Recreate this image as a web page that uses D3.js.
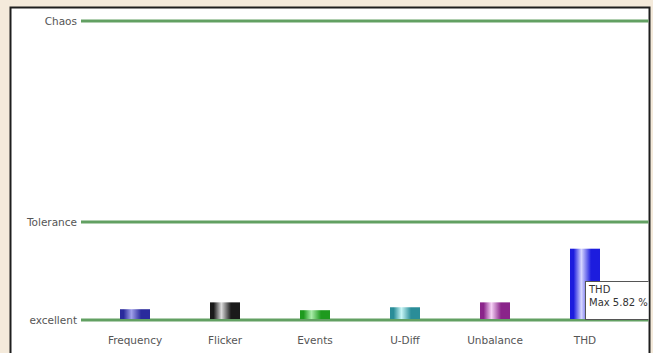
<!DOCTYPE html>
<html>
<head>
<meta charset="utf-8">
<script src="https://cdn.jsdelivr.net/npm/d3@7"></script>
<style>
  html, body { margin: 0; padding: 0; background: #f4eadb; }
  svg { display: block; }
</style>
</head>
<body>
<script>
// Quality indicators, each expressed as a percentage of its tolerance limit
const categories = ["Frequency", "Flicker", "Events", "U-Diff", "Unbalance", "THD"];
const thdMax = 5.82;      // measured THD maximum, %
const thdLimit = 8;       // THD tolerance limit, %
const levelPct = [11, 18, 10, 13, 18, thdMax / thdLimit * 100];
const barColors = [
  ["#2a2a9c", "#a0a0ea"],
  ["#1a1a1a", "#dcdcdc"],
  ["#1e9a1e", "#a8eca8"],
  ["#2a8d98", "#c8f6f6"],
  ["#8a248a", "#f6d2f6"],
  ["#1c1cde", "#d6d6ff"]
];
// Reference levels on the value axis
const levelNames = ["excellent", "Tolerance", "Chaos"];
const levelValues = [0, 100, 305];

const W = 653, H = 353;
const font = "DejaVu Sans, Verdana, sans-serif";
const svg = d3.select("body").append("svg").attr("width", W).attr("height", H);

// Panel
svg.append("rect").attr("x", 10.5).attr("y", 7.5).attr("width", 639).attr("height", 360)
  .attr("fill", "#ffffff").attr("stroke", "#1e1e1e").attr("stroke-width", 2);

svg.append("clipPath").attr("id", "panel")
  .append("rect").attr("x", 11.5).attr("y", 8.5).attr("width", 637).attr("height", 360);

const g = svg.append("g").attr("clip-path", "url(#panel)");

const x = d3.scaleBand().domain(categories).range([90, 630]).paddingInner(2 / 3).paddingOuter(1 / 3);
const y = d3.scaleLinear().domain([0, 100]).range([320, 222]);

// Cylinder shading for each bar
const defs = svg.append("defs");
barColors.forEach((c, i) => {
  const grad = defs.append("linearGradient").attr("id", "bar" + i)
    .attr("x1", "0%").attr("x2", "100%").attr("y1", "0%").attr("y2", "0%");
  grad.append("stop").attr("offset", "0%").attr("stop-color", c[0]);
  grad.append("stop").attr("offset", "12%").attr("stop-color", c[0]);
  grad.append("stop").attr("offset", "38%").attr("stop-color", c[1]);
  grad.append("stop").attr("offset", "70%").attr("stop-color", c[0]);
  grad.append("stop").attr("offset", "100%").attr("stop-color", c[0]);
});

// Level lines and their labels
levelValues.forEach((v, i) => {
  g.append("line").attr("x1", 81).attr("x2", 660)
    .attr("y1", y(v)).attr("y2", y(v))
    .attr("stroke", "#62a062").attr("stroke-width", 3);
  svg.append("text").attr("x", 77).attr("y", y(v)).attr("dy", "0.35em")
    .attr("text-anchor", "end")
    .attr("font-family", font).attr("font-size", 10.5)
    .attr("fill", "#555").text(levelNames[i]);
});

// Bars
g.selectAll("rect.bar").data(categories).join("rect").attr("class", "bar")
  .attr("x", d => x(d))
  .attr("width", x.bandwidth())
  .attr("y", (d, i) => y(levelPct[i]))
  .attr("height", (d, i) => y(0) - y(levelPct[i]) - 1)
  .attr("fill", (d, i) => `url(#bar${i})`);

// Category labels
svg.selectAll("text.cat").data(categories).join("text").attr("class", "cat")
  .attr("x", d => x(d) + x.bandwidth() / 2).attr("y", 340).attr("dy", "0.35em")
  .attr("text-anchor", "middle")
  .attr("font-family", font).attr("font-size", 10.5)
  .attr("fill", "#555").text(d => d);

// Tooltip for THD
const thdX = x("THD") + x.bandwidth() / 2;
const tip = g.append("g").attr("transform", `translate(${thdX}, 281)`);
tip.append("rect").attr("x", 0.5).attr("y", 0.5).attr("width", 100).attr("height", 38)
  .attr("fill", "#ffffff").attr("stroke", "#555").attr("stroke-width", 1);
tip.append("text").attr("x", 4).attr("y", 12)
  .attr("font-family", font).attr("font-size", 10)
  .attr("fill", "#333").text("THD");
tip.append("text").attr("x", 4).attr("y", 25)
  .attr("font-family", font).attr("font-size", 10)
  .attr("fill", "#333").text(`Max ${thdMax.toFixed(2)} %`);
</script>
</body>
</html>
